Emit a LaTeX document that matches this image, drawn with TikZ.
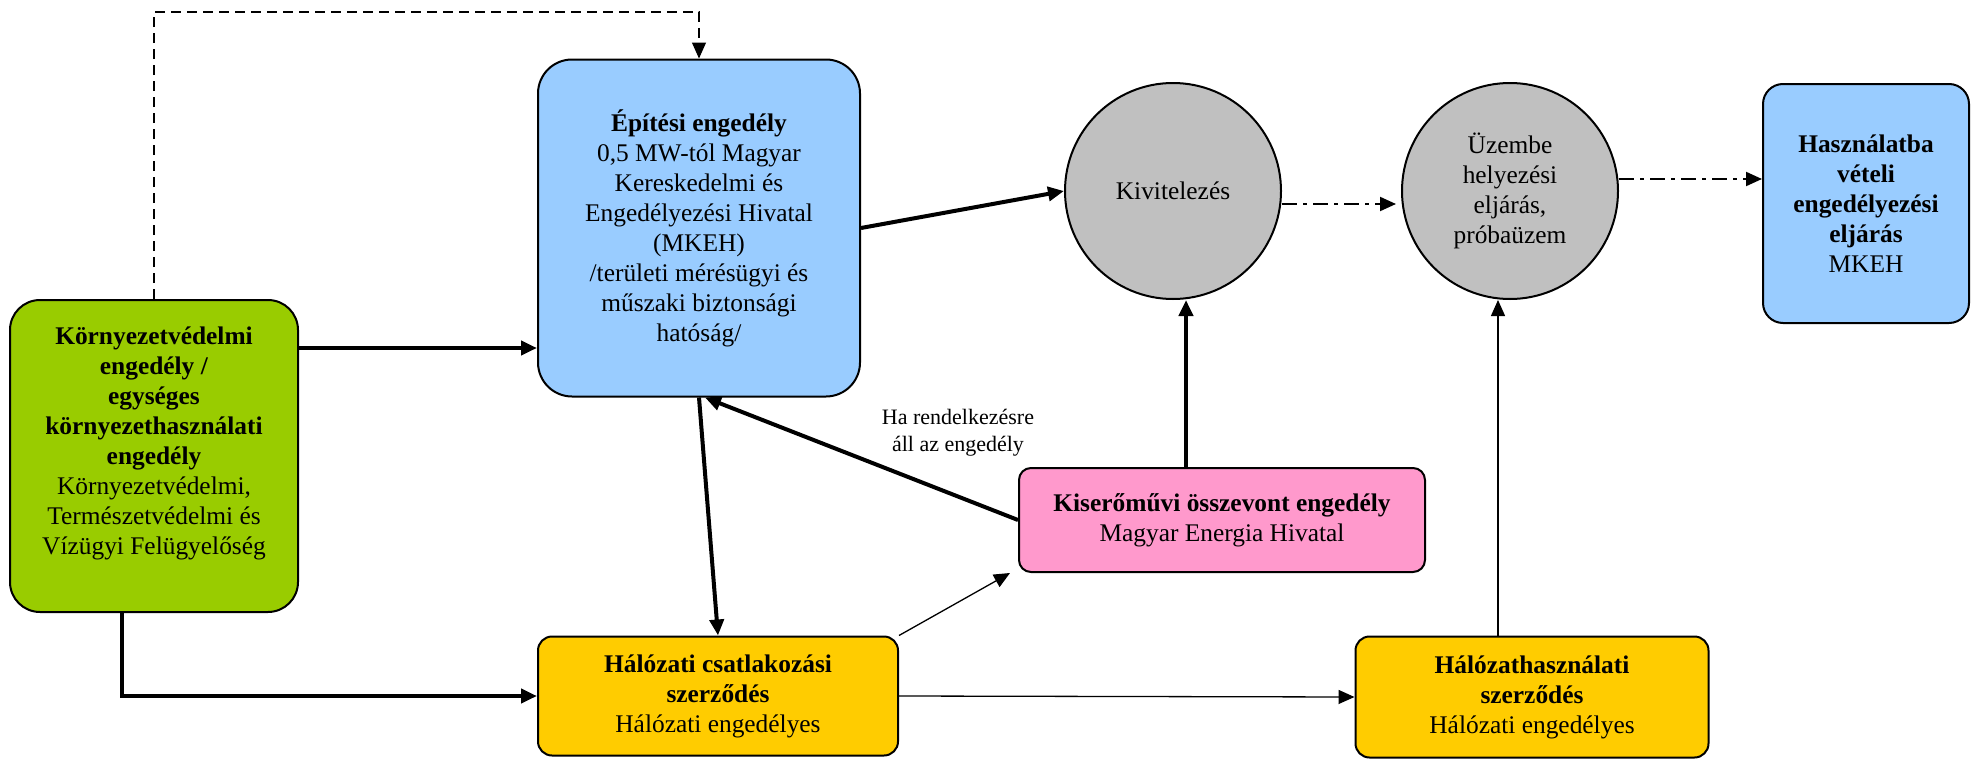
\documentclass[tikz,border=0pt]{standalone}
\usepackage{fontspec}
\setmainfont{Liberation Serif}
\usetikzlibrary{arrows.meta}

\definecolor{envgreen}{HTML}{99CC00}
\definecolor{permitblue}{HTML}{99CCFF}
\definecolor{stagegray}{HTML}{C0C0C0}
\definecolor{mehpink}{HTML}{FF99CC}
\definecolor{gridyellow}{HTML}{FFCC00}

\tikzset{
  box/.style={draw, line width=1pt, align=center, inner sep=2pt,
    font=\fontsize{12.7}{15}\selectfont},
  stage/.style={draw, line width=1pt, circle, fill=stagegray, minimum size=108pt,
    inner sep=0pt, align=center, font=\fontsize{12.7}{15}\selectfont},
  note/.style={align=center, inner sep=0pt, font=\fontsize{11}{13.5}\selectfont},
  strong/.style={line width=2pt, -{Triangle[length=8pt,width=7pt]}},
  weak/.style={line width=0.65pt, -{Triangle[length=8pt,width=7pt]}},
  dashdot/.style={line width=1pt, dash pattern=on 7.5pt off 3pt on 2pt off 3pt,
    -{Triangle[length=8pt,width=7pt]}},
  dashlink/.style={line width=0.6pt, dash pattern=on 5pt off 3pt,
    -{Triangle[length=8pt,width=7pt]}}
}

\begin{document}
\begin{tikzpicture}[x=0.5pt, y=-0.5pt]
\useasboundingbox (0,0) rectangle (1971,760);

%Engedelyek es szerzodesek (dobozok), a koordinatak kepponthoz igazitva, y lefele no
%---------------------------------------------------
\node[box, fill=envgreen, rounded corners=15pt, minimum width=144pt, minimum height=156pt] (env) at (154,456)
  {\textbf{Környezetvédelmi}\\\textbf{engedély /}\\\textbf{egységes}\\\textbf{környezethasználati}\\\textbf{engedély}\\
   Környezetvédelmi,\\Természetvédelmi és\\Vízügyi Felügyelőség\\ \mbox{}};
\node[box, fill=permitblue, rounded corners=17pt, minimum width=161pt, minimum height=168.5pt] (epit) at (699,228)
  {\textbf{Építési engedély}\\0,5 MW-tól Magyar\\Kereskedelmi és\\Engedélyezési Hivatal\\(MKEH)\\
   /területi mérésügyi és\\műszaki biztonsági\\hatóság/};
\node[box, fill=permitblue, rounded corners=10pt, minimum width=103pt, minimum height=119.5pt] (haszn) at (1866,203.5)
  {\textbf{Használatba}\\\textbf{vételi}\\\textbf{engedélyezési}\\\textbf{eljárás}\\MKEH};
\node[box, fill=mehpink, rounded corners=6pt, minimum width=203pt, minimum height=52pt] (kiser) at (1222,520)
  {\textbf{Kiserőművi összevont engedély}\\Magyar Energia Hivatal};
\node[box, fill=gridyellow, rounded corners=7pt, minimum width=180pt, minimum height=59.5pt] (halo1) at (718,696)
  {\textbf{Hálózati csatlakozási}\\\textbf{szerződés}\\Hálózati engedélyes};
\node[box, fill=gridyellow, rounded corners=7pt, minimum width=176.5pt, minimum height=60.5pt] (halo2) at (1532,697)
  {\textbf{Hálózathasználati}\\\textbf{szerződés}\\Hálózati engedélyes};
%---------------------------------------------------

%Folyamatlepesek (korok)
%---------------------------------------------------
\node[stage] (kiv) at (1173,191) {Kivitelezés};
\node[stage] (uzem) at (1510,191) {Üzembe\\helyezési\\eljárás,\\próbaüzem};
%---------------------------------------------------

\coordinate (dashtop) at (0,12);
\coordinate (kivfoot) at ([xshift=-18pt]kiser.north);
\coordinate (uzemfoot) at ([xshift=-17pt]halo2.north);

%Szaggatott visszacsatolas a kornyezetvedelmi engedelytol az epitesi engedelyig
%---------------------------------------------------
\draw[dashlink] (env.north) -- (env.north |- dashtop) -| (epit.north);
%---------------------------------------------------

%Vastag nyilak
%---------------------------------------------------
\draw[strong] ([yshift=54pt]env.east) -- ([yshift=-60pt]epit.west);
\draw[strong] ([xshift=-16pt]env.south) |- (halo1.west);
\draw[strong] (epit.south) -- (halo1.north);
\draw[strong] (kiser.west) -- ([xshift=3pt]epit.south);
\draw[strong] (epit.east) -- (kiv.west);
\draw[strong] (kivfoot) -- (kivfoot |- kiv.south);
%---------------------------------------------------

\node[note] (avail) at (958,433) {Ha rendelkezésre\\áll az engedély};

%Vekony nyilak
%---------------------------------------------------
\draw[weak] (halo1.north east) -- ([xshift=-4pt]kiser.south west);
\draw[weak] (halo1.east) -- (halo2.west);
\draw[weak] (uzemfoot) -- (uzemfoot |- uzem.south);
%---------------------------------------------------

%Pont-vonalas nyilak a lepesek kozott
%---------------------------------------------------
\draw[dashdot, shorten >=2.5pt] ([yshift=-6.5pt]kiv.east) -- ([yshift=-6.5pt]uzem.west);
\draw[dashdot] ([yshift=6pt]uzem.east) -- ([yshift=12.25pt]haszn.west);
%---------------------------------------------------

\end{tikzpicture}
\end{document}
